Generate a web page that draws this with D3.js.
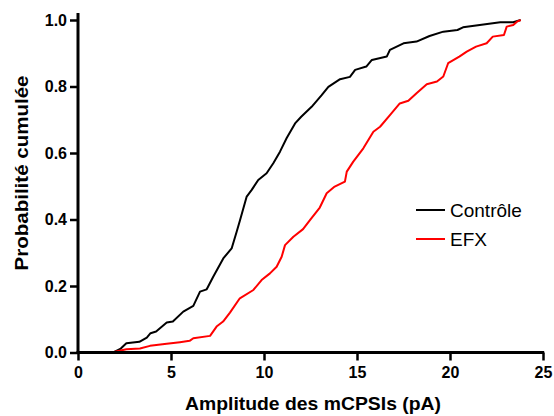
<!DOCTYPE html>
<html><head><meta charset="utf-8">
<script src="https://cdn.jsdelivr.net/npm/d3@7"></script>
<style>body{margin:0;background:#fff}svg{display:block}</style>
</head><body>
<svg id="c" width="554" height="416"></svg>
<script>
const xTicks = [0, 5, 10, 15, 20, 25];
const yTicks = [0.0, 0.2, 0.4, 0.6, 0.8, 1.0];
const seriesNames = ["Contrôle", "EFX"];
const seriesColors = ["#000000", "#ff0000"];
const controlX = [1.9, 2.3, 2.6, 3.3, 3.7, 3.9, 4.2, 4.77, 5.1, 5.66, 6.2, 6.56, 6.92, 7.27, 7.81, 8.26, 8.53, 8.71, 9.07, 9.34, 9.69, 10.14, 10.5, 10.86, 11.22, 11.67, 12.0, 12.56, 13.1, 13.46, 14.09, 14.62, 14.9, 15.5, 15.8, 16.6, 16.77, 17.5, 18.2, 18.9, 19.64, 20.4, 20.7, 21.6, 22.7, 23.4, 23.8];
const controlY = [0.0, 0.012, 0.028, 0.032, 0.045, 0.058, 0.063, 0.09, 0.093, 0.123, 0.14, 0.183, 0.19, 0.228, 0.283, 0.313, 0.363, 0.398, 0.469, 0.489, 0.519, 0.539, 0.569, 0.604, 0.645, 0.689, 0.709, 0.739, 0.774, 0.799, 0.822, 0.829, 0.85, 0.86, 0.88, 0.89, 0.91, 0.93, 0.935, 0.952, 0.965, 0.97, 0.978, 0.985, 0.993, 0.993, 1.0];
const efxX = [1.8, 2.6, 3.33, 3.87, 4.77, 5.48, 6.0, 6.2, 7.1, 7.45, 7.8, 8.17, 8.7, 9.43, 9.87, 10.32, 10.68, 10.95, 11.13, 11.58, 12.1, 12.47, 13.0, 13.37, 13.8, 14.35, 14.45, 14.8, 15.34, 15.88, 16.24, 16.77, 17.3, 17.76, 18.2, 18.75, 19.3, 19.64, 19.9, 20.5, 20.9, 21.4, 21.97, 22.3, 22.9, 23.05, 23.4, 23.6, 23.8];
const efxY = [0.0, 0.01, 0.012, 0.02, 0.026, 0.031, 0.035, 0.043, 0.05, 0.078, 0.093, 0.12, 0.163, 0.188, 0.218, 0.238, 0.258, 0.288, 0.323, 0.348, 0.371, 0.398, 0.436, 0.479, 0.499, 0.514, 0.544, 0.574, 0.614, 0.664, 0.679, 0.714, 0.749, 0.757, 0.78, 0.807, 0.815, 0.83, 0.87, 0.89, 0.905, 0.92, 0.93, 0.95, 0.955, 0.98, 0.985, 0.995, 1.0];
const xTitle = "Amplitude des mCPSIs (pA)";
const yTitle = "Probabilité cumulée";

const svg = d3.select("#c");
const x = d3.scaleLinear().domain([0, 25]).range([78, 543]);
const y = d3.scaleLinear().domain([0, 1]).range([352.5, 20]);
const font = "'Liberation Sans', Arial, sans-serif";

const series = [
  {name: seriesNames[0], color: seriesColors[0], pts: controlX.map((v, i) => [v, controlY[i]])},
  {name: seriesNames[1], color: seriesColors[1], pts: efxX.map((v, i) => [v, efxY[i]])}
];
const line = d3.line().x(d => x(d[0])).y(d => y(d[1]));
svg.selectAll("path.s").data(series).enter().append("path")
  .attr("class", "s").attr("d", d => line(d.pts))
  .attr("fill", "none").attr("stroke", d => d.color).attr("stroke-width", 2)
  .attr("stroke-linejoin", "round");

// axes
const gx = svg.append("g").attr("transform", "translate(0,352.5)")
  .call(d3.axisBottom(x).tickValues(xTicks).tickFormat(d3.format("d")).tickSize(8).tickPadding(6));
const gy = svg.append("g").attr("transform", "translate(78,0)")
  .call(d3.axisLeft(y).tickValues(yTicks).tickFormat(d3.format(".1f")).tickSize(8).tickPadding(3));
[gx, gy].forEach(g => {
  g.select(".domain").remove();
  g.selectAll(".tick line").attr("stroke", "#000").attr("stroke-width", 2.5);
  g.selectAll(".tick text").attr("fill", "#000").style("font-family", font)
    .style("font-weight", "bold").style("font-size", "16px");
});
svg.append("line").attr("x1", 78).attr("x2", 78).attr("y1", 13).attr("y2", 354)
  .attr("stroke", "#000").attr("stroke-width", 3);
svg.append("line").attr("x1", 76.5).attr("x2", x(25) + 1.2).attr("y1", 352.5).attr("y2", 352.5)
  .attr("stroke", "#000").attr("stroke-width", 3);

svg.append("text").attr("x", 313).attr("y", 410).attr("text-anchor", "middle")
  .style("font-family", font).style("font-weight", "bold").style("font-size", "18px")
  .attr("textLength", 256).attr("lengthAdjust", "spacingAndGlyphs")
  .text(xTitle);
svg.append("text").attr("transform", "translate(28,173) rotate(-90)").attr("text-anchor", "middle")
  .style("font-family", font).style("font-weight", "bold").style("font-size", "18px")
  .attr("textLength", 195).attr("lengthAdjust", "spacingAndGlyphs")
  .text(yTitle);

// legend
const lg = svg.selectAll("g.lg").data(series).enter().append("g").attr("class", "lg")
  .attr("transform", (d, i) => `translate(416,${210 + i * 29})`);
lg.append("line").attr("x1", 0).attr("x2", 29).attr("stroke", d => d.color).attr("stroke-width", 2);
lg.append("text").attr("x", 34).attr("dy", "0.35em")
  .style("font-family", font).style("font-size", "19px").text(d => d.name);
</script>
</body></html>
